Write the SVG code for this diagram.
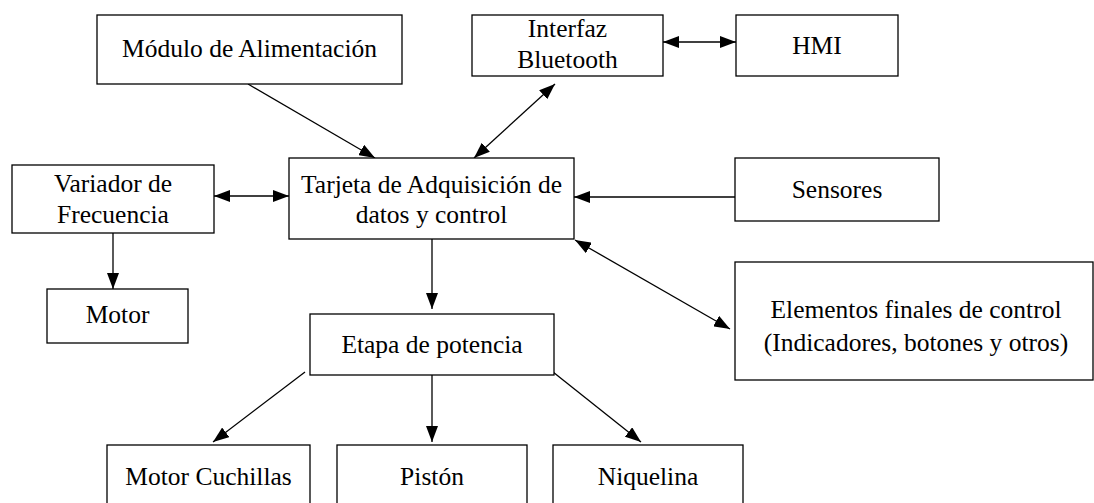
<svg xmlns="http://www.w3.org/2000/svg" width="1094" height="503" viewBox="0 0 1094 503">
<defs>
<marker id="ah" markerUnits="userSpaceOnUse" markerWidth="16" markerHeight="12" refX="16" refY="6" orient="auto-start-reverse" viewBox="0 0 16 12">
<path d="M0,0 L16,6 L0,12 z" fill="#000"/>
</marker>
<style>
.box{fill:#fff;stroke:#000;stroke-width:1.3}
text{font-family:"Liberation Serif","Times New Roman",serif;font-size:25.5px;fill:#000;text-anchor:middle}
.c{stroke:#000;stroke-width:1.3;fill:none}
.e{marker-end:url(#ah)}
.b{marker-start:url(#ah);marker-end:url(#ah)}
</style>
</defs>
<rect width="1094" height="503" fill="#fff"/>
<g id="connectors">
<line class="c e" x1="248" y1="84" x2="375" y2="158"/>
<line class="c b" x1="555" y1="84" x2="474" y2="158"/>
<line class="c b" x1="663" y1="42" x2="736" y2="42"/>
<line class="c b" x1="214" y1="196" x2="289" y2="196"/>
<line class="c e" x1="113" y1="233" x2="113" y2="289"/>
<line class="c e" x1="735" y1="197" x2="574" y2="197"/>
<line class="c b" x1="575" y1="240" x2="730" y2="329"/>
<line class="c e" x1="432" y1="239" x2="432" y2="309"/>
<line class="c e" x1="305" y1="372" x2="213" y2="442"/>
<line class="c e" x1="432" y1="375" x2="432" y2="442"/>
<line class="c e" x1="553" y1="372" x2="641" y2="442"/>
</g>
<g id="modulo"><rect class="box" x="97" y="15" width="305" height="69"/><text x="249.5" y="57">Módulo de Alimentación</text></g>
<g id="interfaz"><rect class="box" x="472" y="15" width="191" height="61"/><text x="567.5" y="37">Interfaz</text><text x="567.5" y="68">Bluetooth</text></g>
<g id="hmi"><rect class="box" x="736" y="15" width="162" height="61"/><text x="817" y="54">HMI</text></g>
<g id="variador"><rect class="box" x="12" y="165" width="202" height="68"/><text x="113" y="192">Variador de</text><text x="113" y="223">Frecuencia</text></g>
<g id="motor"><rect class="box" x="47" y="289" width="141" height="54"/><text x="117.5" y="323">Motor</text></g>
<g id="tarjeta"><rect class="box" x="289" y="158" width="285" height="81"/><text x="431.5" y="193">Tarjeta de Adquisición de</text><text x="431.5" y="223">datos y control</text></g>
<g id="sensores"><rect class="box" x="735" y="158" width="204" height="63"/><text x="837" y="198">Sensores</text></g>
<g id="elementos"><rect class="box" x="735" y="262" width="358" height="118"/><text x="916" y="318">Elementos finales de control</text><text x="916" y="351">(Indicadores, botones y otros)</text></g>
<g id="etapa"><rect class="box" x="310" y="314" width="244" height="61"/><text x="432" y="353">Etapa de potencia</text></g>
<g id="cuchillas"><rect class="box" x="107" y="445" width="203" height="80"/><text x="208.5" y="485">Motor Cuchillas</text></g>
<g id="piston"><rect class="box" x="337" y="445" width="190" height="80"/><text x="432" y="485">Pistón</text></g>
<g id="niquelina"><rect class="box" x="553" y="445" width="190" height="80"/><text x="648" y="485">Niquelina</text></g>
</svg>
